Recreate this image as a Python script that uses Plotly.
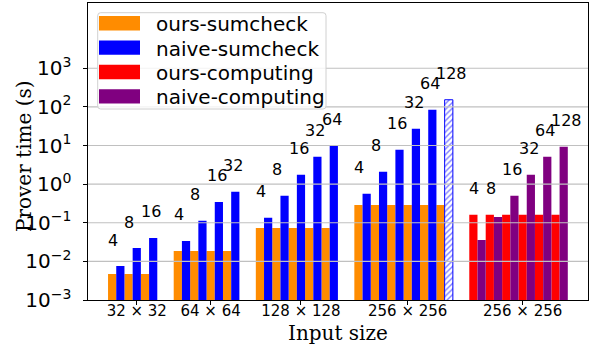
import math
import plotly.graph_objects as go

# ---- data ----
group_labels = ["32 × 32", "64 × 64", "128 × 128", "256 × 256", "256 × 256"]
threads = [4, 8, 16, 32, 64, 128]

ours_sumcheck_32 = [0.0047, 0.0047, 0.0047]
naive_sumcheck_32 = [0.0076, 0.0223, 0.0405]
ours_sumcheck_64 = [0.0186, 0.0186, 0.0186, 0.0186]
naive_sumcheck_64 = [0.0339, 0.112, 0.347, 0.631]
ours_sumcheck_128 = [0.0736, 0.0736, 0.0736, 0.0736, 0.0736]
naive_sumcheck_128 = [0.134, 0.497, 1.74, 5.1, 9.8]
ours_sumcheck_256 = [0.29, 0.29, 0.29, 0.29, 0.29, 0.29]
naive_sumcheck_256 = [0.56, 2.08, 7.74, 27.1, 84.3]
naive_sumcheck_256_estimated = [153]  # hatched bar (128 threads)
ours_computing_256 = [0.16, 0.16, 0.16, 0.16, 0.16, 0.16]
naive_computing_256 = [0.036, 0.142, 0.497, 1.74, 5.1, 9.27]

series_names = ["ours-sumcheck", "naive-sumcheck", "ours-computing", "naive-computing"]

ORANGE = "#ff8c00"
BLUE = "#0000ff"
RED = "#ff0000"
PURPLE = "#800080"
series_colors = [ORANGE, BLUE, RED, PURPLE]
FONT = "DejaVu Sans"
SERIF = "DejaVu Serif"

W, H = 594, 350
ML, MR, MT, MB = 88, 6, 3, 50
PW, PH = W - ML - MR, H - MT - MB


def px2paper(xp, yp):
    return (xp - ML) / PW, (H - MB - yp) / PH


# layout of slots: each group occupies one slot per thread count, one empty slot between groups
group_sizes = [3, 4, 5, 6, 6]
group_starts = []
s = 0
for n in group_sizes:
    group_starts.append(s)
    s += n + 1

fig = go.Figure()

sum_ours = [ours_sumcheck_32, ours_sumcheck_64, ours_sumcheck_128, ours_sumcheck_256]
sum_naive = [naive_sumcheck_32, naive_sumcheck_64, naive_sumcheck_128,
             naive_sumcheck_256 + naive_sumcheck_256_estimated]

ox, oy, nx, ny = [], [], [], []
for g in range(4):
    for i, v in enumerate(sum_ours[g]):
        ox.append(group_starts[g] + i + 0.25)
        oy.append(v)
    for i, v in enumerate(sum_naive[g]):
        if g == 3 and i == 5:
            continue
        nx.append(group_starts[g] + i + 0.75)
        ny.append(v)

cx = [group_starts[4] + i + 0.25 for i in range(len(ours_computing_256))]
px_ = [group_starts[4] + i + 0.75 for i in range(len(naive_computing_256))]

fig.add_trace(go.Bar(x=ox, y=oy, width=0.5, marker=dict(color=ORANGE, line=dict(width=0)),
                     name=series_names[0], showlegend=False))
fig.add_trace(go.Bar(x=nx, y=ny, width=0.5, marker=dict(color=BLUE, line=dict(width=0)),
                     name=series_names[1], showlegend=False))
fig.add_trace(go.Bar(x=cx, y=ours_computing_256, width=0.5,
                     marker=dict(color=RED, line=dict(width=0)), name=series_names[2],
                     showlegend=False))
fig.add_trace(go.Bar(x=px_, y=naive_computing_256, width=0.5,
                     marker=dict(color=PURPLE, line=dict(width=0)), name=series_names[3],
                     showlegend=False))
# hatched estimated bar
fig.add_trace(go.Bar(x=[group_starts[3] + 5 + 0.75], y=naive_sumcheck_256_estimated, width=0.5,
                     marker=dict(color="white", line=dict(color=BLUE, width=1),
                                 pattern=dict(shape="/", fgcolor=BLUE, bgcolor="white",
                                              size=4, solidity=0.35)),
                     name=series_names[1] + " (128)", showlegend=False))

# thread labels
annotations = []
all_pairs = [(sum_ours[g], sum_naive[g]) for g in range(4)] + [(ours_computing_256, naive_computing_256)]
for g, (a, b) in enumerate(all_pairs):
    for i in range(len(b)):
        top = max(a[i], b[i])
        annotations.append(dict(x=group_starts[g] + i, y=math.log10(top * 3), xref="x", yref="y",
                                text=str(threads[i]), showarrow=False, xanchor="left",
                                yanchor="bottom", xshift=-2, yshift=-4,
                                font=dict(family=FONT, size=16, color="black")))

tickvals_x = [group_starts[g] + group_sizes[g] / 2 + 0.25 for g in range(5)]
yt = [-3, -2, -1, 0, 1, 2, 3]
ytext = ["10<sup>%s</sup>" % (str(v).replace("-", "−")) for v in yt]

shapes = []
for v in yt[1:]:
    shapes.append(dict(type="line", xref="paper", yref="y", x0=0, x1=1, y0=10 ** v, y1=10 ** v,
                       line=dict(color="#c0c0c0", width=1.2), layer="above"))

# legend (drawn manually to match the reference box)
bx0, by1 = px2paper(97.7, 12.7)
bx1, by0 = px2paper(326, 109)
rx, ry = 3 / PW, 3 / PH
path = (f"M {bx0+rx},{by0} L {bx1-rx},{by0} Q {bx1},{by0} {bx1},{by0+ry} "
        f"L {bx1},{by1-ry} Q {bx1},{by1} {bx1-rx},{by1} L {bx0+rx},{by1} "
        f"Q {bx0},{by1} {bx0},{by1-ry} L {bx0},{by0+ry} Q {bx0},{by0} {bx0+rx},{by0} Z")
shapes.append(dict(type="path", xref="paper", yref="paper", path=path,
                   fillcolor="rgba(255,255,255,0.8)", line=dict(color="#d0d0d0", width=1),
                   layer="above"))
row0, pitch = 23.3, 24.35
for k, (nm, col) in enumerate(zip(series_names, series_colors)):
    cy = row0 + k * pitch
    sx0, sy0 = px2paper(99, cy + 7.2)
    sx1, sy1 = px2paper(140, cy - 7.2)
    shapes.append(dict(type="rect", xref="paper", yref="paper", x0=sx0, x1=sx1, y0=sy0, y1=sy1,
                       fillcolor=col, line=dict(width=0), layer="above"))
    tx, ty = px2paper(156, cy)
    annotations.append(dict(x=tx, y=ty, xref="paper", yref="paper", text=nm, showarrow=False,
                            xanchor="left", yanchor="middle", xshift=-2, yshift=-1,
                            font=dict(family=FONT, size=20, color="black")))

# axis titles
tx, ty = px2paper(24, 156)
annotations.append(dict(x=tx, y=ty, xref="paper", yref="paper", text="Prover time (s)",
                        textangle=-90, showarrow=False, xanchor="center", yanchor="middle",
                        font=dict(family=SERIF, size=20, color="black")))
tx, ty = px2paper(338, 333)
annotations.append(dict(x=tx, y=ty, xref="paper", yref="paper", text="Input size",
                        showarrow=False, xanchor="center", yanchor="middle",
                        font=dict(family=SERIF, size=20, color="black")))

fig.update_layout(
    width=W, height=H,
    margin=dict(l=ML, r=MR, t=MT, b=MB),
    paper_bgcolor="white", plot_bgcolor="white",
    barmode="overlay",
    showlegend=False,
    annotations=annotations,
    shapes=shapes,
    font=dict(family=FONT, color="black"),
    xaxis=dict(range=[-1.22, 29.23], tickvals=tickvals_x, ticktext=group_labels,
               tickfont=dict(family=FONT, size=15), showgrid=False, zeroline=False,
               showline=True, linecolor="black", linewidth=1.1, mirror=True,
               ticks="outside", ticklen=3.5, tickcolor="black", automargin=False,
               ticklabelstandoff=-7),
    yaxis=dict(type="log", range=[-3, 4.69], tickvals=[10 ** v for v in yt], ticktext=ytext,
               tickfont=dict(family=FONT, size=20), showgrid=False, zeroline=False,
               showline=True, linecolor="black", linewidth=1.1, mirror=True,
               ticks="outside", ticklen=3.5, tickcolor="black", automargin=False,
               ticklabelstandoff=8),
)

fig.write_html("out.html", config={"displayModeBar": False},
               post_script="document.body.style.margin='0';")
